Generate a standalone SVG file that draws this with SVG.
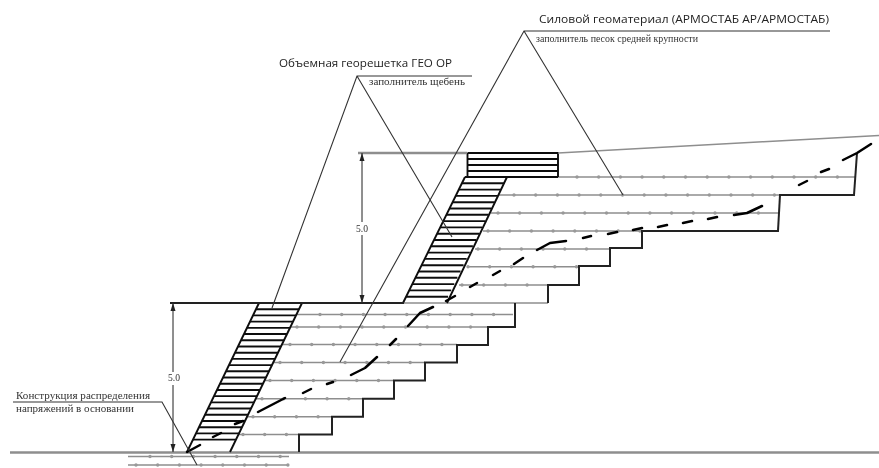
<svg xmlns="http://www.w3.org/2000/svg" width="879" height="468" viewBox="0 0 879 468">
<defs>
<filter id="soft" x="0" y="0" width="879" height="468" filterUnits="userSpaceOnUse"><feGaussianBlur stdDeviation="0.7"/></filter>
<marker id="tick" viewBox="0 0 8 8" refX="8" refY="4" markerWidth="8" markerHeight="8" orient="auto-start-reverse" markerUnits="userSpaceOnUse"><path d="M0 1.5L8 4L0 6.5z" fill="#222"/></marker>
</defs>
<style>
.bg{fill:#fff}
.g{fill:none;stroke:#8e8e8e;stroke-width:1.5}
.gb{fill:none;stroke:#8e8e8e;stroke-width:2.6}
.d{fill:none;stroke:#999;stroke-width:3.4;stroke-linecap:round;stroke-dasharray:0 21.7}
.k{fill:none;stroke:#222;stroke-width:2}
.h{fill:none;stroke:#111;stroke-width:1.9}
.s{fill:none;stroke:#000;stroke-width:2.5;stroke-linecap:round;stroke-linejoin:round}
.l{fill:none;stroke:#333;stroke-width:1.1}
.t{font-family:"Open Sans","Liberation Sans",sans-serif;fill:#222;font-size:10.5px}
.r{font-family:"Liberation Serif",serif;fill:#333;font-size:9.6px}
</style>
<rect class="bg" width="879" height="468"/>
<g filter="url(#soft)">
<g id="ground">
<path class="gb" d="M10 452.5H879"/>
<path class="g" d="M128 456.5H289M128 465H289"/>
<path class="d" d="M150 456.5H289"/>
<path class="d" d="M136 465H289"/>
</g>
<g id="fill-lower">
<path class="g" d="M302 303H548M296 314.5H513M290 327H488M282 344.5H457M273 362.5H425M264 380.5H394M255 398.7H363M246 416.7H332M238 434.5H299"/>
<path class="d" d="M320 314.5H511"/>
<path class="d" d="M297 327H486"/>
<path class="d" d="M290 344.5H455"/>
<path class="d" d="M280 362.5H423"/>
<path class="d" d="M270 380.5H392"/>
<path class="d" d="M262 398.7H361"/>
<path class="d" d="M253 416.7H330"/>
<path class="d" d="M243 434.5H297"/>
<path class="k" d="M515 303V327H488V345H457V362.5H425V380.5H394V398.7H363V416.7H332V434.5H299V452"/>
</g>
<g id="fill-upper">
<path class="g" d="M507 177H855M499 195H780M491 213H778M483 231H642M475 249H610M467 266.7H579M459 285H548"/>
<path class="d" d="M577 177H855"/>
<path class="d" d="M514 195H778"/>
<path class="d" d="M498 213H776"/>
<path class="d" d="M488 231H640"/>
<path class="d" d="M478 249H608"/>
<path class="d" d="M468 266.7H577"/>
<path class="d" d="M462 285H546"/>
<path class="k" d="M857 153L854 195H780L778 231H642V248H610V266H579V285H548V303"/>
</g>
<g id="facing-lower">
<path class="h" d="M259 303L187 452M302 303L230 452"/>
<path class="h" d="M259 303h43m-46 6.21h43m-46 6.21h43m-46 6.21h43m-46 6.21h43m-46 6.21h43m-46 6.21h43m-46 6.21h43m-46 6.21h43m-46 6.21h43m-46 6.21h43m-46 6.21h43m-46 6.21h43m-46 6.21h43m-46 6.21h43m-46 6.21h43m-46 6.21h43m-46 6.21h43m-46 6.21h43m-46 6.21h43m-46 6.21h43m-46 6.21h43m-46 6.21h43"/>
</g>
<g id="facing-upper">
<path class="h" d="M467.5 153H558V177M467.5 153V177M467.5 159H558M467.5 165H558M467.5 171H558M467.5 177H558"/>
<path class="h" d="M465 177L403 303M507 177L447 303"/>
<path class="h" d="M465 177h42m-45.1 6.3h42m-45.1 6.3h42m-45.1 6.3h42m-45.1 6.3h42m-45.1 6.3h42m-45.1 6.3h42m-45.1 6.3h42m-45.1 6.3h42m-45.1 6.3h42m-45.1 6.3h42m-45.1 6.3h42m-45.1 6.3h42m-45.1 6.3h42m-45.1 6.3h42m-45.1 6.3h42m-45.1 6.3h42m-45.1 6.3h42m-45.1 6.3h42m-45.1 6.3h42"/>
</g>
<g id="terrace">
<path class="k" d="M170 303H404"/>
<path class="gb" d="M358 153H467"/>
<path class="g" d="M558 153L879 135.5"/>
</g>
<g id="slip-surface">
<path class="s" d="M187 452L200 445M213 437L221 433M235 424L243 421M258 412L285 398M303 393L311 389M327 384L333 382M351 375L365 368L377 357M390 345L396 339M408 326L420 313L433 307M446 301L455 296M470 287L477 283M493 275L500 271M514 264L523 258M537 250L550 243L566 241M583 238L591 236M608 234L617 232M633 230L642 228M658 227L667 225M683 223L692 221M708 219L717 217M734 215L747 213L762 206M799 185L807 181M821 172L829 169M843 160L857 153L871 144"/>
</g>
<g id="connectors">
<path class="l" d="M472 76H357L272 308M357 76L452 237"/>
<path class="l" d="M830 31H524L340 362M524 31L623 195"/>
<path class="l" d="M13 402H162L197 465"/>
<path class="l" d="M173 303V372" marker-start="url(#tick)"/>
<path class="l" d="M173 385V452" marker-end="url(#tick)"/>
<path class="l" d="M362 153V222" marker-start="url(#tick)"/>
<path class="l" d="M362 235V303" marker-end="url(#tick)"/>
</g>
<g id="labels">
<text class="t" x="279" y="67" textLength="173" lengthAdjust="spacingAndGlyphs">Объемная георешетка ГЕО ОР</text>
<text class="r" x="369" y="85" textLength="96" lengthAdjust="spacingAndGlyphs">заполнитель щебень</text>
<text class="t" x="539" y="23" textLength="290" lengthAdjust="spacingAndGlyphs">Силовой геоматериал (АРМОСТАБ АР/АРМОСТАБ)</text>
<text class="r" x="536" y="42" textLength="162" lengthAdjust="spacingAndGlyphs">заполнитель песок средней крупности</text>
<text class="r" x="16" y="399" textLength="134" lengthAdjust="spacingAndGlyphs">Конструкция распределения</text>
<text class="r" x="16" y="412" textLength="118" lengthAdjust="spacingAndGlyphs">напряжений в основании</text>
<text class="r" x="174" y="381" text-anchor="middle">5.0</text>
<text class="r" x="362" y="232" text-anchor="middle">5.0</text>
</g>
</g>
</svg>
